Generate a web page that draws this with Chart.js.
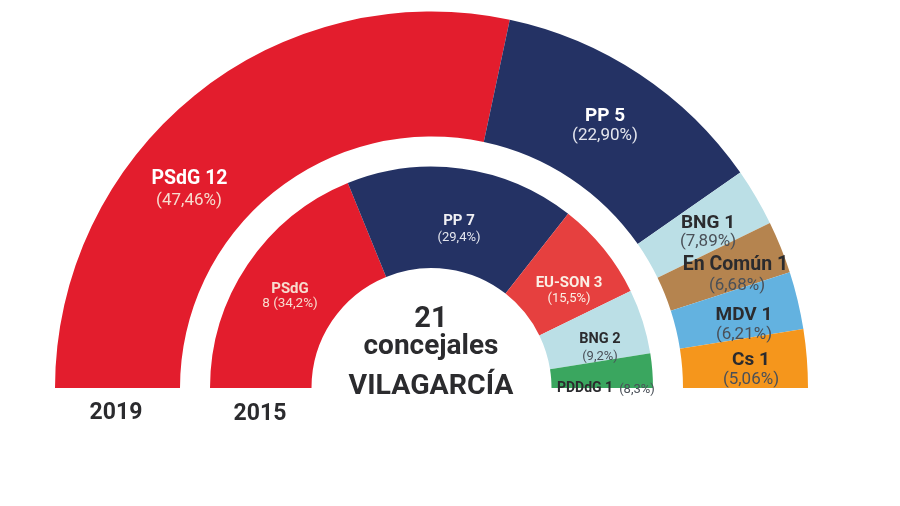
<!DOCTYPE html>
<html lang="es">
<head>
<meta charset="utf-8">
<title>Vilagarcía 21 concejales</title>
<script src="https://cdn.jsdelivr.net/npm/chart.js@4"></script>
<style>
html,body{margin:0;padding:0;background:#fff;width:900px;height:506px;overflow:hidden}
#wrap{position:relative;width:900px;height:506px;font-family:Roboto,sans-serif}
canvas{position:absolute;left:0;top:0}
.t{position:absolute;transform:translate(-50%,-50%);white-space:nowrap;line-height:1;font-weight:400}
.b{font-weight:700}
</style>
</head>
<body>
<div id="wrap"><canvas id="c" width="900" height="506"></canvas></div>
<script>
// Parties and seats/vote labels, as printed
const parties2019 = ["PSdG 12","PP 5","BNG 1","En Común 1","MDV 1","Cs 1"];
const votes2019   = ["(47,46%)","(22,90%)","(7,89%)","(6,68%)","(6,21%)","(5,06%)"];
const parties2015 = ["PSdG","PP 7","EU-SON 3","BNG 2","PDDdG 1"];
const votes2015   = ["8 (34,2%)","(29,4%)","(15,5%)","(9,2%)","(8,3%)"];
// Slice spans as drawn in the picture (degrees of the half circle)
const arcs2019 = [102.0,43.1,8.9,8.1,8.9,9.0];
const arcs2015 = [67.8,60.3,25.9,17.0,9.0];
const gapSpan  = [180];
const colors2019 = ["#e31d2d","#243264","#bbdfe6","#b5844f","#63b2e0","#f5961c"];
const colors2015 = ["#e31d2d","#243264","#e6403f","#bbdfe6","#3aa65f"];

new Chart(document.getElementById("c"),{
  type:"doughnut",
  data:{
    labels:parties2019,
    datasets:[
      {label:"2019",data:arcs2019,backgroundColor:colors2019,borderWidth:0,weight:125},
      {label:"gap",data:gapSpan,backgroundColor:"rgba(0,0,0,0)",borderWidth:0,weight:30},
      {label:"2015",data:arcs2015,backgroundColor:colors2015,borderWidth:0,weight:101.5}
    ]
  },
  options:{
    responsive:false,animation:false,
    rotation:-90,circumference:180,cutout:"31.873%",
    layout:{padding:{left:55,right:92,top:11.5,bottom:118}},
    plugins:{legend:{display:false},tooltip:{enabled:false}},
    events:[]
  }
});

const wrap=document.getElementById("wrap");
function put(text,x,y,size,color,bold){
  const s=document.createElement("span");
  s.className="t"+(bold?" b":"");
  s.textContent=text;
  s.style.left=x+"px";s.style.top=y+"px";s.style.fontSize=size+"px";s.style.color=color;
  wrap.appendChild(s);
}
const W="#ffffff",P="#f7dccf",D="#2b2b2e",G="#4a5058";
put(parties2019[0],189.5,178,19.5,W,true); put(votes2019[0],189,199,17,P);
put(parties2019[1],605,114,19,W,true); put(votes2019[1],605,134,17,"#e4e6ee");
put(parties2019[2],708,221,19,D,true); put(votes2019[2],708,240,17,G);
put(parties2019[3],735.5,264,19.5,D,true); put(votes2019[3],737,284,17,G);
put(parties2019[4],744,313,19,D,true); put(votes2019[4],744,333,17,G);
put(parties2019[5],751,358,19,D,true); put(votes2019[5],751,378,17,G);
put(parties2015[0],290,288,15,P,true); put(votes2015[0],290,303,13.5,P,false);
put(parties2015[1],459,220,15,"#f0f0f4",true); put(votes2015[1],459,236,13,"#e4e6ee");
put(parties2015[2],569,282,15,"#fbeee4",true); put(votes2015[2],569,297,13,"#fbeee4");
put(parties2015[3],600,339,14.5,D,true); put(votes2015[3],600,355,13,G);
put(parties2015[4],585,387,14,D,true); put(votes2015[4],637,388,13,G);
put("21",431,317,29,D,true);
put("concejales",431,345,28,D,true);
put("VILAGARCÍA",431,385,28.5,D,true);
put("2019",116,411,23,D,true);
put("2015",260,412,23,D,true);
</script>
</body>
</html>
